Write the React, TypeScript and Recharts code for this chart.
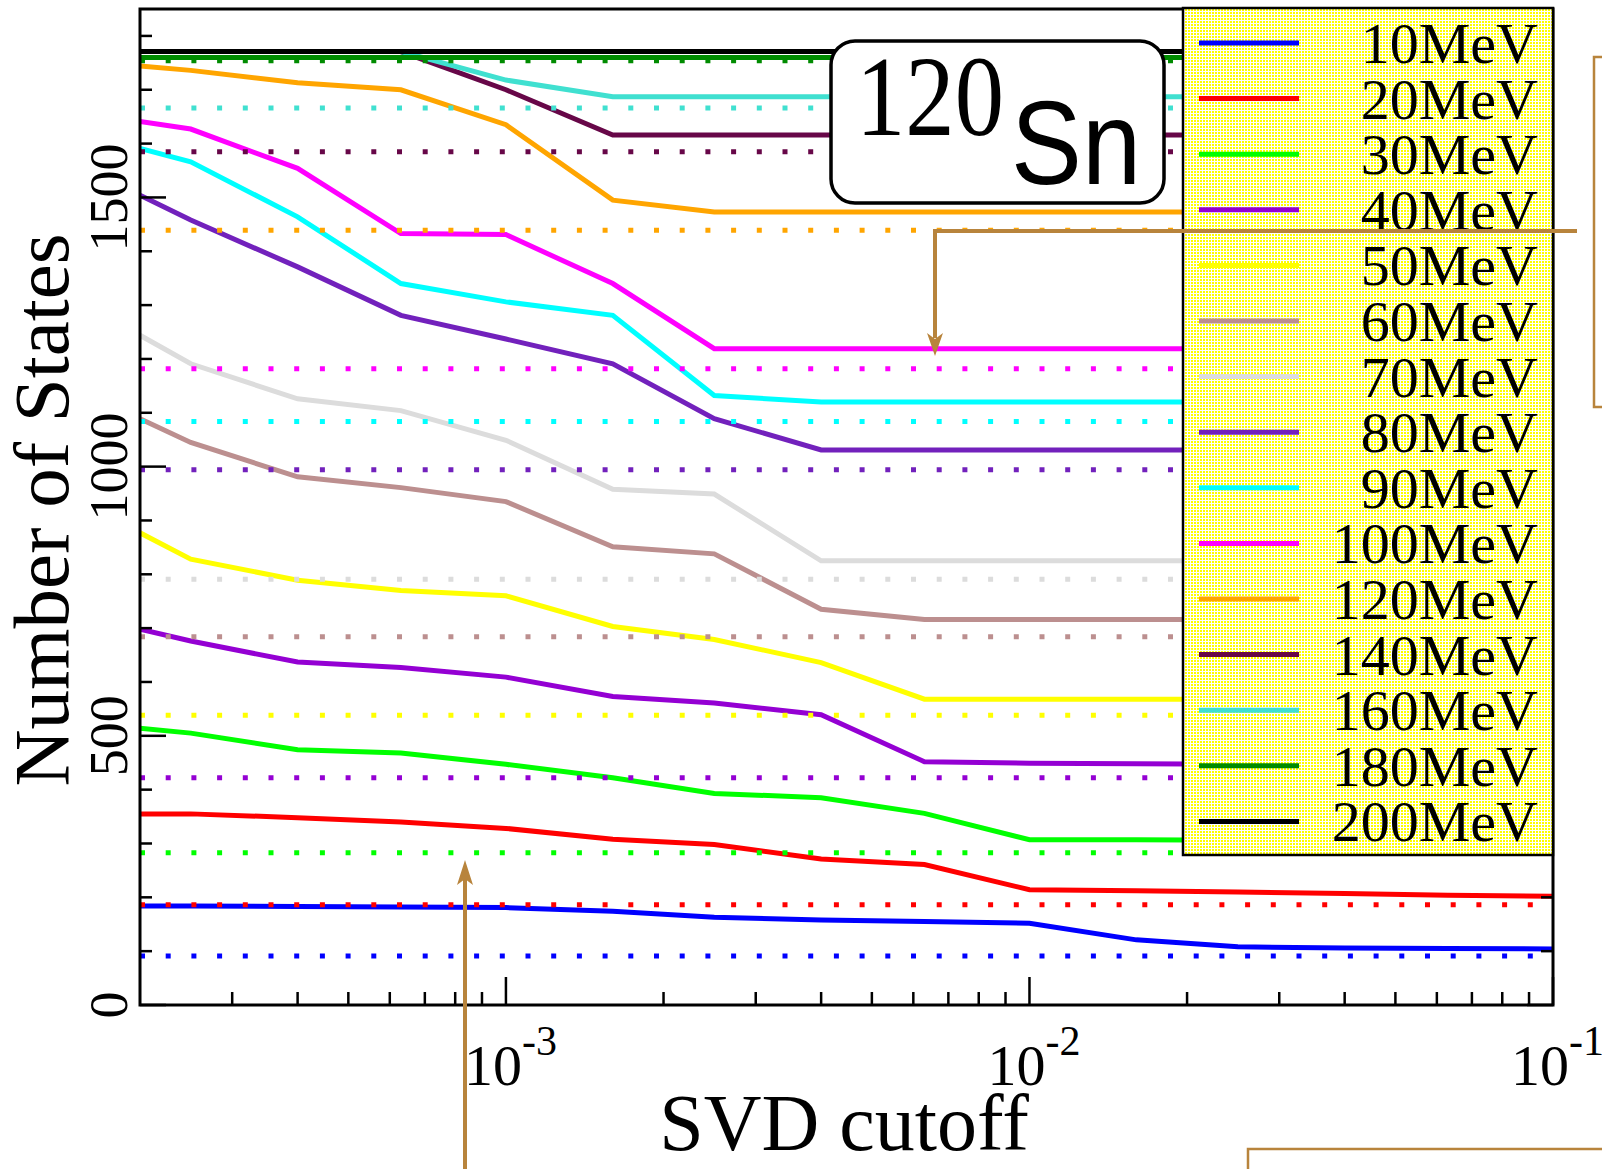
import { LineChart, Line, XAxis, YAxis, ReferenceLine } from "recharts";

// SVD cutoff sample points (log axis)
const CUTOFFS = [2e-4, 2.5e-4, 4e-4, 6.3e-4, 1e-3, 1.6e-3, 2.5e-3, 4e-3, 6.3e-3, 1e-2, 1.6e-2, 2.5e-2, 4e-2, 6.3e-2, 1e-1];

const LABELS = ["10MeV", "20MeV", "30MeV", "40MeV", "50MeV", "60MeV", "70MeV", "80MeV", "90MeV", "100MeV", "120MeV", "140MeV", "160MeV", "180MeV", "200MeV"];

const E10 = [184, 184, 183, 182, 181, 174, 163, 158, 155, 152, 121, 108, 106, 105, 104];
const E20 = [355, 355, 348, 340, 328, 308, 298, 271, 261, 214, 212, 210, 207, 204, 202];
const E30 = [514, 505, 474, 468, 447, 422, 393, 385, 356, 307, 307, 306, 306, 305, 305];
const E40 = [698, 676, 637, 627, 609, 573, 561, 539, 452, 449, 448, 447, 447, 447, 447];
const E50 = [877, 828, 789, 770, 760, 703, 679, 636, 568, 568, 568, 568, 568, 568, 568];
const E60 = [1089, 1045, 981, 961, 935, 851, 838, 735, 716, 716, 716, 716, 716, 716, 716];
const E70 = [1244, 1191, 1126, 1104, 1049, 958, 949, 825, 825, 825, 825, 825, 825, 825, 825];
const E80 = [1504, 1458, 1371, 1281, 1237, 1191, 1089, 1031, 1031, 1031, 1031, 1031, 1031, 1031, 1031];
const E90 = [1591, 1566, 1464, 1340, 1306, 1281, 1132, 1120, 1120, 1120, 1120, 1120, 1120, 1120, 1120];
const E100 = [1641, 1627, 1554, 1433, 1431, 1340, 1219, 1219, 1219, 1219, 1219, 1219, 1219, 1219, 1219];
const E120 = [1744, 1736, 1713, 1700, 1635, 1495, 1473, 1473, 1473, 1473, 1473, 1473, 1473, 1473, 1473];
const E140 = [1771, 1771, 1771, 1771, 1700, 1616, 1616, 1616, 1616, 1616, 1616, 1616, 1616, 1616, 1616];
const E160 = [1771, 1771, 1771, 1771, 1718, 1687, 1687, 1687, 1687, 1687, 1687, 1687, 1687, 1687, 1687];
const E180 = [1760, 1760, 1760, 1760, 1760, 1760, 1760, 1760, 1760, 1760, 1760, 1760, 1760, 1760, 1760];
const E200 = [1771, 1771, 1771, 1771, 1771, 1771, 1771, 1771, 1771, 1771, 1771, 1771, 1771, 1771, 1771];

// dotted horizontal reference levels, one per energy
const REFERENCE = [91, 186, 283, 422, 538, 684, 791, 994, 1084, 1182, 1439, 1585, 1666, 1754, 1771];

const X_TICKS = [
  3e-4, 4e-4, 5e-4, 6e-4, 7e-4, 8e-4, 9e-4, 1e-3,
  2e-3, 3e-3, 4e-3, 5e-3, 6e-3, 7e-3, 8e-3, 9e-3, 1e-2,
  2e-2, 3e-2, 4e-2, 5e-2, 6e-2, 7e-2, 8e-2, 9e-2, 1e-1,
];
const Y_TICKS = [0, 100, 200, 300, 400, 500, 600, 700, 800, 900, 1000, 1100, 1200, 1300, 1400, 1500, 1600, 1700, 1800];
const Y_LABELED = [0, 500, 1000, 1500];

const SERIES = [E10, E20, E30, E40, E50, E60, E70, E80, E90, E100, E120, E140, E160, E180, E200];
const COLORS = ["#0000FF", "#FF0000", "#00FF00", "#9400D3", "#FFFF00", "#BC8F8F", "#DCDCDC", "#7221BC", "#00FFFF", "#FF00FF", "#FFA500", "#670748", "#40E0D0", "#008B00", "#000000"];

const rows = CUTOFFS.map((x, i) => {
  const r: Record<string, number> = { x };
  SERIES.forEach((s, k) => (r["s" + k] = s[i]));
  return r;
});

const W = 1602;
const H = 1169;
const LEFT = 140;
const RIGHT = 1553;
const TOP = 9;
const BOTTOM = 1005;
const SERIF = "'Liberation Serif', 'Times New Roman', serif";
const BROWN = "#B8843C";

const isDecade = (v: number) => Math.abs(Math.log10(v) - Math.round(Math.log10(v))) < 1e-6;

function BottomTick(props: any) {
  const { x, payload } = props;
  const y = BOTTOM;
  const v = payload.value;
  const major = isDecade(v);
  return (
    <g>
      <line x1={x} x2={x} y1={y} y2={y - (major ? 28 : 13)} stroke="#000" strokeWidth={2.5} />
      {major && (
        <text x={x - 42} y={y + 80} fontFamily={SERIF} fontSize={58} fill="#000">
          10
          <tspan dy={-30} fontSize={42}>{String(Math.round(Math.log10(v)))}</tspan>
        </text>
      )}
    </g>
  );
}

function TopTick(props: any) {
  const { x, payload } = props;
  const y = TOP;
  const major = isDecade(payload.value);
  return <line x1={x} x2={x} y1={y} y2={y + (major ? 28 : 13)} stroke="#000" strokeWidth={2.5} />;
}

function LeftTick(props: any) {
  const { y, payload } = props;
  const x = LEFT;
  const v = payload.value;
  const labeled = Y_LABELED.includes(v);
  return (
    <g>
      <line x1={x} x2={x + (labeled ? 26 : 12)} y1={y} y2={y} stroke="#000" strokeWidth={2.5} />
      {labeled && (
        <text transform={`translate(${x - 13}, ${y}) rotate(-90)`} textAnchor="middle" fontFamily={SERIF} fontSize={54} fill="#000">
          {v}
        </text>
      )}
    </g>
  );
}

function RightTick(props: any) {
  const { y, payload } = props;
  const x = RIGHT;
  const labeled = Y_LABELED.includes(payload.value);
  return <line x1={x} x2={x - (labeled ? 26 : 12)} y1={y} y2={y} stroke="#000" strokeWidth={2.5} />;
}

function Overlay() {
  const legendX = 1183;
  const legendY = 8;
  const step = 55.6;
  return (
    <svg width={W} height={H} style={{ position: "absolute", left: 0, top: 0, pointerEvents: "none" }}>
      <defs>
        <pattern id="legendDots" width={3} height={3} patternUnits="userSpaceOnUse">
          <rect width={3} height={3} fill="#FFFFFF" />
          <rect width={2} height={2} fill="#FFFF00" />
        </pattern>
      </defs>

      {/* frame drawn again so it stays crisp over the series */}
      <rect x={LEFT} y={TOP} width={RIGHT - LEFT} height={BOTTOM - TOP} fill="none" stroke="#000" strokeWidth={3} />

      {/* legend */}
      <rect x={legendX} y={legendY} width={RIGHT - legendX} height={855 - legendY} fill="url(#legendDots)" stroke="#000" strokeWidth={2.5} />
      {LABELS.map((lab, i) => {
        const ly = 43 + i * step;
        return (
          <g key={lab}>
            <line x1={1199} x2={1299} y1={ly} y2={ly} stroke={COLORS[i]} strokeWidth={5} />
            <text x={1538} y={ly + 20} textAnchor="end" fontFamily={SERIF} fontSize={58} fill="#000">
              {lab}
            </text>
          </g>
        );
      })}

      {/* nucleus label */}
      <rect x={831} y={41} width={333} height={162} rx={24} ry={24} fill="#FFFFFF" stroke="#000" strokeWidth={3.5} />
      <text x={856} y={135} fontFamily={SERIF} fontSize={114} textLength={148} lengthAdjust="spacingAndGlyphs" fill="#000">
        120
      </text>
      <text x={1011} y={184} fontFamily="'Liberation Sans', Arial, sans-serif" fontSize={118} textLength={130} lengthAdjust="spacingAndGlyphs" fill="#000">
        Sn
      </text>

      {/* annotation arrows and boxes */}
      <polyline points="1577,231 935,231 935,338" fill="none" stroke={BROWN} strokeWidth={4} />
      <polygon points="935,356 927,333 935,339 943,333" fill={BROWN} />
      <rect x={1594} y={57} width={40} height={350} fill="none" stroke={BROWN} strokeWidth={2.5} />
      <line x1={465} x2={465} y1={1169} y2={878} stroke={BROWN} strokeWidth={4} />
      <polygon points="465,860 457,885 465,879 473,885" fill={BROWN} />
      <rect x={1248} y={1149} width={400} height={100} fill="none" stroke={BROWN} strokeWidth={2.5} />

      {/* axis titles */}
      <text transform="translate(68, 510) rotate(-90)" textAnchor="middle" fontFamily={SERIF} fontSize={79} fill="#000">
        Number of States
      </text>
      <text x={844} y={1150} textAnchor="middle" fontFamily={SERIF} fontSize={80} fill="#000">
        SVD cutoff
      </text>
    </svg>
  );
}

export default function App() {
  return (
    <div style={{ position: "absolute", left: 0, top: 0, width: W, height: H, background: "#fff" }}>
      <LineChart
        width={W}
        height={H}
        data={rows}
        margin={{ top: TOP - 1, right: W - RIGHT - 1, bottom: H - BOTTOM - 1, left: LEFT - 1 }}
      >
        <XAxis
          xAxisId="b"
          dataKey="x"
          type="number"
          scale="log"
          domain={[2e-4, 0.1]}
          allowDataOverflow
          ticks={X_TICKS}
          interval={0}
          height={1}
          tickSize={0}
          tickMargin={0}
          tickLine={false}
          axisLine={false}
          tick={BottomTick}
        />
        <XAxis
          xAxisId="t"
          orientation="top"
          type="number"
          scale="log"
          domain={[2e-4, 0.1]}
          allowDataOverflow
          ticks={X_TICKS}
          interval={0}
          height={1}
          tickSize={0}
          tickMargin={0}
          tickLine={false}
          axisLine={false}
          tick={TopTick}
        />
        <YAxis
          yAxisId="l"
          type="number"
          domain={[0, 1850]}
          allowDataOverflow
          ticks={Y_TICKS}
          interval={0}
          width={1}
          tickSize={0}
          tickMargin={0}
          tickLine={false}
          axisLine={false}
          tick={LeftTick}
        />
        <YAxis
          yAxisId="r"
          orientation="right"
          type="number"
          domain={[0, 1850]}
          allowDataOverflow
          ticks={Y_TICKS}
          interval={0}
          width={1}
          tickSize={0}
          tickMargin={0}
          tickLine={false}
          axisLine={false}
          tick={RightTick}
        />
        {SERIES.map((_, k) => (
          <Line
            key={LABELS[k]}
            xAxisId="b"
            yAxisId="l"
            type="linear"
            dataKey={"s" + k}
            stroke={COLORS[k]}
            strokeWidth={5}
            dot={false}
            activeDot={false}
            isAnimationActive={false}
          />
        ))}
        {REFERENCE.map((v, k) => (
          <ReferenceLine
            key={"ref" + k}
            xAxisId="b"
            yAxisId="l"
            y={v}
            stroke={COLORS[k]}
            strokeWidth={5}
            strokeDasharray="5 20.7"
          />
        ))}
      </LineChart>
      <Overlay />
    </div>
  );
}
